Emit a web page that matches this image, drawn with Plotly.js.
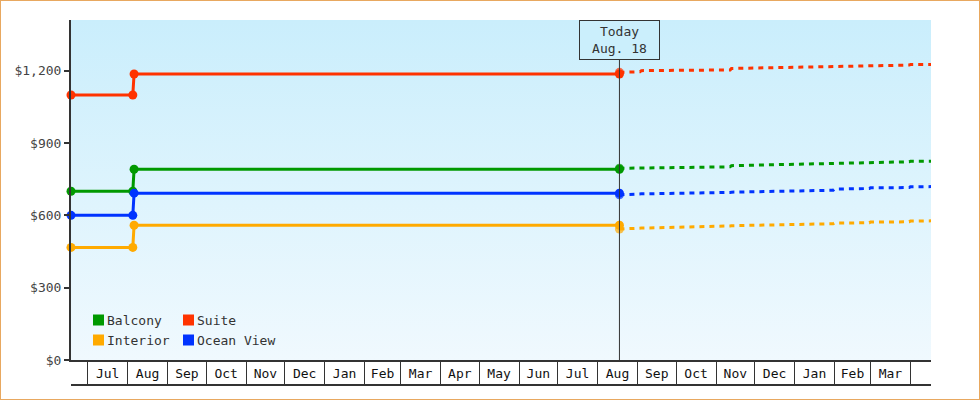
<!DOCTYPE html>
<html>
<head>
<meta charset="utf-8">
<script src="https://cdn.plot.ly/plotly-3.0.1.min.js"></script>
<style>
    body { margin: 0; background: #fff; }
    #chart { width: 978px; height: 398px; border: 1px solid #e8a860; }
</style>
</head>
<body>
<div id="chart"></div>
<script>
// Series, in legend order
const seriesNames = ['Balcony', 'Suite', 'Interior', 'Ocean View'];
const seriesColors = ['#009900', '#ff3300', '#ffaa00', '#0033ff'];

// Price history (solid lines)
const historyDates = ['2017-06-18', '2017-08-05', '2017-08-06', '2018-08-18'];
const balconyHistory = [700, 700, 791, 791];
const suiteHistory = [1099, 1099, 1186, 1186];
const interiorHistory = [467, 467, 559, 559];
const oceanHistory = [600, 600, 692, 692];

// Price forecast (dotted lines)
const forecastDates = ['2018-08-18', '2018-09-03', '2018-09-04', '2018-11-12', '2018-11-13', '2019-01-31',
    '2019-02-01', '2019-02-28', '2019-03-01', '2019-03-31', '2019-04-01', '2019-04-17'];
const balconyForecast = [795, 796, 799, 801, 806, 814, 816, 818, 820, 822, 824, 824];
const suiteForecast = [1193, 1195, 1200, 1203, 1209, 1216, 1217, 1219, 1220, 1223, 1225, 1225];
const interiorForecast = [543, 544, 547, 556, 557, 565, 568, 569, 572, 573, 576, 577];
const oceanForecast = [685, 686, 689, 695, 696, 704, 709, 711, 714, 715, 718, 719];

// Axis info
const xRange = ['2017-06-18', '2019-04-17'];
const yRange = [0, 1410];
const yTicks = [0, 300, 600, 900, 1200];
const monthStarts = ['2017-07-01', '2017-08-01', '2017-09-01', '2017-10-01', '2017-11-01', '2017-12-01',
    '2018-01-01', '2018-02-01', '2018-03-01', '2018-04-01', '2018-05-01', '2018-06-01', '2018-07-01',
    '2018-08-01', '2018-09-01', '2018-10-01', '2018-11-01', '2018-12-01', '2019-01-01', '2019-02-01',
    '2019-03-01', '2019-04-01'];
const monthLabels = ['Jul', 'Aug', 'Sep', 'Oct', 'Nov', 'Dec', 'Jan', 'Feb', 'Mar', 'Apr', 'May', 'Jun',
    'Jul', 'Aug', 'Sep', 'Oct', 'Nov', 'Dec', 'Jan', 'Feb', 'Mar'];
const todayDate = '2018-08-18';
const todayText = 'Today<br>Aug. 18';

const history = [balconyHistory, suiteHistory, interiorHistory, oceanHistory];
const forecast = [balconyForecast, suiteForecast, interiorForecast, oceanForecast];

const FONT = 'DejaVu Sans Mono, monospace';
const INK = '#333333';
const plotW = 860;
const plotH = 340;

// label positions: middle of each month
const monthMids = monthLabels.map((_, i) => {
    const a = new Date(monthStarts[i] + 'T00:00:00Z').getTime();
    const b = new Date(monthStarts[i + 1] + 'T00:00:00Z').getTime();
    return new Date((a + b) / 2).toISOString().slice(0, 19).replace('T', ' ');
});

const traces = [];

// gradient background of the plot area
traces.push({
    x: [xRange[0], xRange[1], xRange[1], xRange[0]],
    y: [yRange[0], yRange[0], yRange[1], yRange[1]],
    type: 'scatter',
    mode: 'lines',
    fill: 'toself',
    line: { width: 0 },
    fillgradient: {
        type: 'vertical',
        colorscale: [[0, '#f0f9fe'], [1, '#caeefc']]
    },
    hoverinfo: 'skip',
    showlegend: false
});

seriesNames.forEach((name, i) => {
    traces.push({
        x: historyDates,
        y: history[i],
        name: name,
        type: 'scatter',
        mode: 'lines+markers',
        cliponaxis: false,
        line: { color: seriesColors[i], width: 3 },
        marker: { color: seriesColors[i], size: 9, line: { width: 0 } },
        showlegend: false
    });
    traces.push({
        x: forecastDates,
        y: forecast[i],
        name: name + ' forecast',
        type: 'scatter',
        mode: 'lines+markers',
        cliponaxis: false,
        line: { color: seriesColors[i], width: 3, dash: '5px,5px' },
        marker: {
            color: seriesColors[i],
            size: forecast[i].map((_, k) => k === 0 ? 9 : 0),
            line: { width: 0 }
        },
        showlegend: false
    });
});

// empty trace so the month separator axis is drawn
traces.push({ x: [null], y: [null], xaxis: 'x2', showlegend: false, hoverinfo: 'skip' });

const shapes = [
    // today line
    {
        type: 'line', xref: 'x', yref: 'paper',
        x0: todayDate, x1: todayDate, y0: 0, y1: 1,
        line: { color: INK, width: 1 }
    },
    // bottom edge of the month row
    {
        type: 'line', xref: 'paper', yref: 'paper',
        x0: 0, x1: 1, y0: -25 / plotH, y1: -25 / plotH,
        line: { color: INK, width: 2 }
    }
];

const annotations = [
    {
        x: todayDate, xref: 'x', y: 1, yref: 'paper',
        xanchor: 'center', yanchor: 'top',
        text: todayText, showarrow: false,
        font: { family: FONT, size: 13, color: INK },
        bgcolor: '#cbeffc', bordercolor: INK, borderwidth: 1, borderpad: 2,
        width: 75, height: 34
    }
];

// legend, two columns
seriesNames.forEach((name, i) => {
    const col = i % 2;
    const row = Math.floor(i / 2);
    const left = 22 + col * 90;
    const mid = 40 - row * 20;
    shapes.push({
        type: 'rect', xref: 'paper', yref: 'paper',
        x0: left / plotW, x1: (left + 11) / plotW,
        y0: (mid - 5.5) / plotH, y1: (mid + 5.5) / plotH,
        fillcolor: seriesColors[i], line: { width: 0 }
    });
    annotations.push({
        x: (left + 12) / plotW, xref: 'paper', y: mid / plotH, yref: 'paper',
        xanchor: 'left', yanchor: 'middle',
        text: name, showarrow: false,
        font: { family: FONT, size: 13, color: INK }
    });
});

const layout = {
    width: 978,
    height: 398,
    margin: { l: 70, r: 48, t: 19, b: 39 },
    paper_bgcolor: '#ffffff',
    plot_bgcolor: '#e0f5fd',
    showlegend: false,
    font: { family: FONT, size: 13, color: INK },
    xaxis: {
        type: 'date',
        range: xRange,
        tickmode: 'array',
        tickvals: monthMids,
        ticktext: monthLabels,
        ticks: '',
        showline: true,
        linecolor: INK,
        linewidth: 2,
        showgrid: false,
        zeroline: false,
        tickfont: { family: FONT, size: 13, color: '#111' }
    },
    xaxis2: {
        type: 'date',
        overlaying: 'x',
        anchor: 'y',
        side: 'bottom',
        range: xRange,
        tickmode: 'array',
        tickvals: monthStarts,
        ticks: 'outside',
        ticklen: 25,
        tickwidth: 1,
        tickcolor: INK,
        showticklabels: false,
        showline: false,
        showgrid: false,
        zeroline: false
    },
    yaxis: {
        range: yRange,
        tickmode: 'array',
        tickvals: yTicks,
        tickformat: '$,',
        ticks: 'outside',
        ticklen: 5,
        tickwidth: 2,
        tickcolor: INK,
        showline: true,
        linecolor: INK,
        linewidth: 2,
        showgrid: false,
        zeroline: false,
        tickfont: { family: FONT, size: 13, color: '#444' }
    },
    shapes: shapes,
    annotations: annotations
};

Plotly.newPlot('chart', traces, layout, { displayModeBar: false, staticPlot: true });
</script>
</body>
</html>
